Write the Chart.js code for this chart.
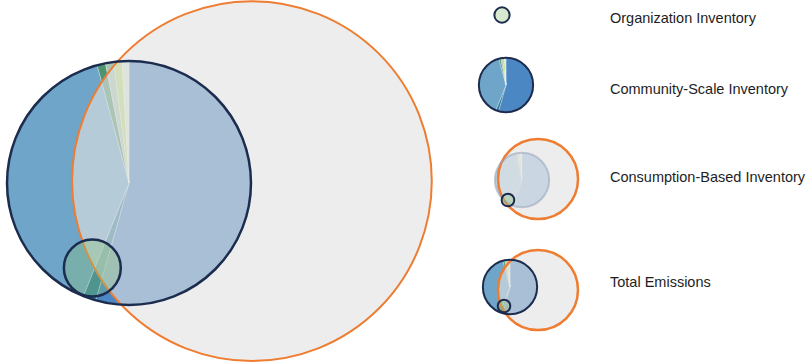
<!DOCTYPE html>
<html>
<head>
<meta charset="utf-8">
<script src="https://cdn.jsdelivr.net/npm/chart.js@4.4.1/dist/chart.umd.min.js"></script>
<style>
  body { margin: 0; background: #fff; width: 808px; height: 363px; overflow: hidden; position: relative;
         font-family: "Liberation Sans", Arial, sans-serif; }
  canvas { position: absolute; }
  .lbl { position: absolute; left: 610px; font-size: 14.5px; line-height: 18px; color: #1e1e1e; white-space: nowrap; }
</style>
</head>
<body>
<canvas id="main" width="470" height="363" style="left:0;top:0"></canvas>

<canvas id="icoOrg" width="30" height="30" style="left:487px;top:0"></canvas>
<canvas id="icoCommunity" width="70" height="70" style="left:471px;top:50px"></canvas>
<canvas id="icoConsumption" width="110" height="100" style="left:476px;top:128px"></canvas>
<canvas id="icoTotal" width="110" height="100" style="left:476px;top:238px"></canvas>

<div class="lbl" id="lblOrg" style="top:9px"></div>
<div class="lbl" id="lblCommunity" style="top:80px"></div>
<div class="lbl" id="lblConsumption" style="top:168px"></div>
<div class="lbl" id="lblTotal" style="top:273px"></div>

<script>
// inventories, relative emissions (circle area ~ value)
var inventories = ['Organization Inventory', 'Community-Scale Inventory', 'Consumption-Based Inventory'];
var emissions = [0.81, 14.9, 32.4];
var totalLabel = 'Total Emissions';

// community-scale inventory split (pie inside the community circle), clockwise from top
var sectorNames = ['Sector 1', 'Sector 2', 'Sector 3', 'Sector 4', 'Sector 5', 'Sector 6', 'Sector 7'];
var sectorShares = [54.4, 1.7, 39.7, 1.1, 1.1, 1.1, 0.9];
var sectorColors = ['#4b87c3', '#2f7c9c', '#6ea5c8', '#4f9470', '#a9c4b4', '#bcd77a', '#d5e4d4'];

// circle centres relative to the community circle (same units as sqrt(emissions))
var layoutOffset = [[-1.16, -2.69], [0, 0], [3.89, 0.06]];

var NAVY = '#1c2c4e';
var ORANGE = '#ee7d31';

var piePlugin = {
  id: 'sectorPie',
  beforeDatasetsDraw: function (chart, args, opts) {
    var idx = chart.data.datasets.findIndex(function (d) { return d.label === inventories[1]; });
    if (idx < 0) return;
    var el = chart.getDatasetMeta(idx).data[0];
    var r = el.options.radius;
    var ctx = chart.ctx;
    var total = sectorShares.reduce(function (s, v) { return s + v; }, 0);
    var a = -Math.PI / 2;
    ctx.save();
    ctx.globalAlpha = opts.alpha;
    sectorShares.forEach(function (v, i) {
      var a1 = a + v / total * Math.PI * 2;
      ctx.beginPath();
      ctx.moveTo(el.x, el.y);
      ctx.arc(el.x, el.y, r, a, a1);
      ctx.closePath();
      ctx.fillStyle = sectorColors[i];
      ctx.fill();
      ctx.strokeStyle = 'rgba(255,255,255,0.35)';
      ctx.lineWidth = 0.8;
      ctx.stroke();
      a = a1;
    });
    ctx.restore();
  }
};

function vennChart(id, show, scale, origin, o) {
  var canvas = document.getElementById(id);
  var w = canvas.width, h = canvas.height;
  var offsets = o.offsets || layoutOffset;
  var datasets = [];
  show.forEach(function (i) {
    var ds = {
      label: inventories[i],
      data: [{ x: offsets[i][0], y: offsets[i][1], r: Math.sqrt(emissions[i]) * scale }],
      order: i,
      clip: false
    };
    if (i === 0) {
      ds.backgroundColor = 'rgba(140,195,120,0.35)';
      ds.borderColor = NAVY;
      ds.borderWidth = o.navyWidth;
    } else if (i === 1) {
      ds.backgroundColor = 'rgba(0,0,0,0)';
      ds.borderColor = o.communityBorder || NAVY;
      ds.borderWidth = o.navyWidth;
    } else {
      ds.backgroundColor = 'rgba(226,226,226,0.62)';
      ds.borderColor = ORANGE;
      ds.borderWidth = o.orangeWidth;
    }
    datasets.push(ds);
  });

  return new Chart(canvas, {
    type: 'bubble',
    data: { datasets: datasets },
    options: {
      responsive: false,
      animation: false,
      devicePixelRatio: 1,
      events: [],
      layout: { padding: 0, autoPadding: false },
      plugins: {
        legend: { display: false },
        tooltip: { enabled: false },
        sectorPie: { alpha: o.pieAlpha }
      },
      scales: {
        x: { type: 'linear', display: false, min: -origin[0] / scale, max: (w - origin[0]) / scale },
        y: { type: 'linear', display: false, min: -(h - origin[1]) / scale, max: origin[1] / scale }
      }
    },
    plugins: [piePlugin]
  });
}

// main chart
vennChart('main', [0, 1, 2], 31.6, [129, 183], { navyWidth: 2.5, orangeWidth: 2, pieAlpha: 1 });

// legend icons (hand placed like the original key)
var iconScale = 7.03;
vennChart('icoOrg', [0], 8.5, [15, 15], { navyWidth: 2, orangeWidth: 2.5, pieAlpha: 1, offsets: [[0, 0]] });
vennChart('icoCommunity', [1], iconScale, [35, 35], { navyWidth: 2, orangeWidth: 2.5, pieAlpha: 1 });
vennChart('icoConsumption', [0, 1, 2], iconScale, [46, 52], {
  navyWidth: 2, orangeWidth: 2.5, pieAlpha: 0.5, communityBorder: 'rgba(150,162,185,0.55)',
  offsets: [[-2.0, -2.85], [0, 0], [2.28, 0.14]]
});
vennChart('icoTotal', [0, 1, 2], iconScale, [34, 49], {
  navyWidth: 2, orangeWidth: 2.5, pieAlpha: 1,
  offsets: [[-0.85, -2.7], [0, 0], [3.98, -0.43]]
});

document.getElementById('lblOrg').textContent = inventories[0];
document.getElementById('lblCommunity').textContent = inventories[1];
document.getElementById('lblConsumption').textContent = inventories[2];
document.getElementById('lblTotal').textContent = totalLabel;
</script>
</body>
</html>
